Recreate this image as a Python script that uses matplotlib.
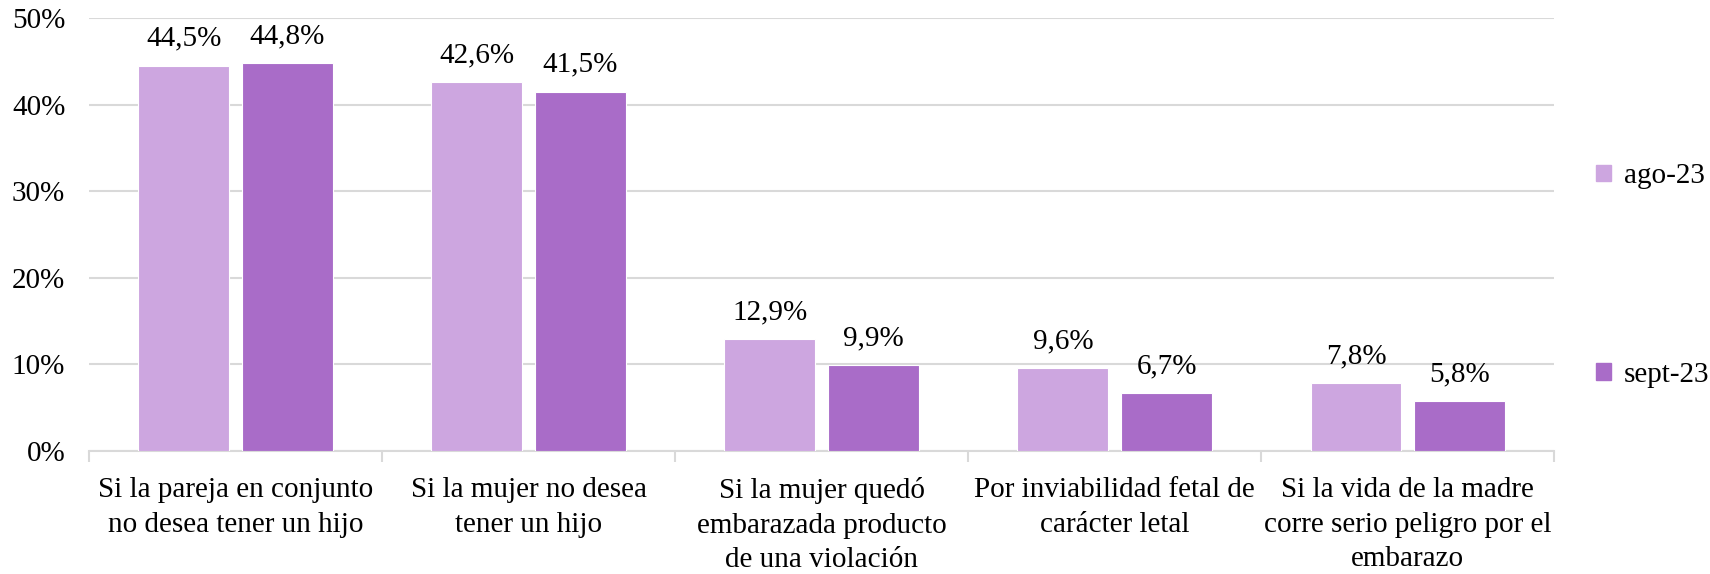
import matplotlib
matplotlib.use("Agg")
import matplotlib.pyplot as plt
from matplotlib.patches import Patch
import numpy as np

categories = [
    "Si la pareja en conjunto\nno desea tener un hijo",
    "Si la mujer no desea\ntener un hijo",
    "Si la mujer quedó\nembarazada producto\nde una violación",
    "Por inviabilidad fetal de\ncarácter letal",
    "Si la vida de la madre\ncorre serio peligro por el\nembarazo",
]
series_names = ["ago-23", "sept-23"]
ago = [44.5, 42.6, 12.9, 9.6, 7.8]
sept = [44.8, 41.5, 9.9, 6.7, 5.8]
colors = ["#CDA6E0", "#A96CC8"]

plt.rcParams["font.family"] = ["Liberation Serif", "DejaVu Serif"]
plt.rcParams["font.size"] = 21

fig = plt.figure(figsize=(17.1, 5.74), dpi=100)
ax = fig.add_axes([0.052, 0.2143, 0.857, 0.7543])

x = np.arange(len(categories))
width = 0.31
offset = 0.177
for vals, name, col, sign in [(ago, series_names[0], colors[0], -1), (sept, series_names[1], colors[1], 1)]:
    bars = ax.bar(x + sign * offset, vals, width, color=col, edgecolor="white", linewidth=0.8, label=name, zorder=3)
    for b, v in zip(bars, vals):
        ax.annotate(f"{v:.1f}%".replace(".", ","), (b.get_x() + b.get_width() / 2, v),
                    xytext=(0, 10), textcoords="offset points", ha="center", va="bottom")

ax.set_xlim(-0.5, len(categories) - 0.5)
ax.set_ylim(0, 50)
ax.set_yticks(np.arange(0, 51, 10))
ax.set_yticklabels([f"{t}%" for t in range(0, 51, 10)])
ax.yaxis.grid(True, color="#D9D9D9", linewidth=1.5, zorder=0)
ax.tick_params(axis="y", length=0, pad=17)

ax.set_xticks(x)
ax.set_xticklabels(categories, linespacing=1.42)
ax.set_xticks(np.arange(-0.5, len(categories), 1), minor=True)
ax.tick_params(axis="x", which="major", length=0, pad=19)
ax.tick_params(axis="x", which="minor", length=8, width=1.5, color="#D9D9D9")

for s in ["top", "right", "left"]:
    ax.spines[s].set_visible(False)
ax.spines["bottom"].set_color("#D9D9D9")
ax.spines["bottom"].set_linewidth(1.5)

handles = [Patch(color=c, label=n) for c, n in zip(colors, series_names)]
fig.legend(handles=handles, loc="center left", bbox_to_anchor=(0.918, 0.52), frameon=False,
           handlelength=0.5, handleheight=0.5, handletextpad=0.45, labelspacing=5.9)

fig.savefig("out.png", dpi=100)
